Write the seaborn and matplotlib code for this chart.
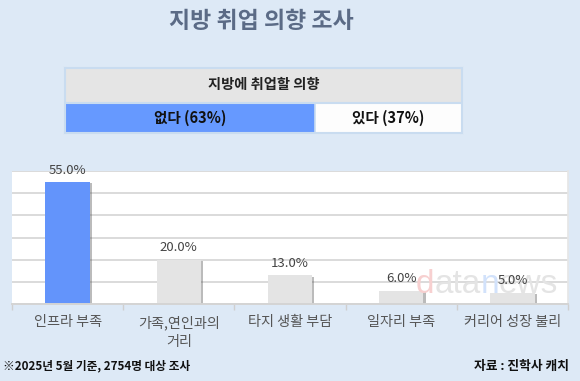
import seaborn as sns
import matplotlib.pyplot as plt
import matplotlib.patheffects as pe

# data
categories = ['인프라 부족', '가족,연인과의\n거리', '타지 생활 부담', '일자리 부족', '커리어 성장 불리']
values = [55.0, 20.0, 13.0, 6.0, 5.0]
bar_colors = ['#6394fb', '#e4e4e4', '#e4e4e4', '#e4e4e4', '#e4e4e4']
intent_labels = ['없다', '있다']
intent_values = [63, 37]

BG = '#dde9f6'

sns.set_theme(style="white")
plt.rcParams['font.family'] = ['Noto Sans CJK KR', 'DejaVu Sans']

fig = plt.figure(figsize=(5.8, 3.81), dpi=100)
fig.patch.set_facecolor(BG)

# title
fig.text(261 / 580, 1 - 22 / 381, '지방 취업 의향 조사', ha='center', va='center',
         fontsize=16.5, fontweight='heavy', color='#5b6b86')

# summary table with the stacked bar
tax = fig.add_axes([65 / 580, 1 - 133 / 381, 397 / 580, 65 / 381])
tax.set_xlim(0, 100)
tax.set_ylim(0, 2.15)
tax.barh(1.58, 100, height=1.14, color='#e5e5e5', edgecolor='none')
tax.barh(0.5, intent_values[0], height=1.0, color='#6699ff', edgecolor='none')
tax.barh(0.5, intent_values[1], left=intent_values[0], height=1.0, color='#fdfdfd', edgecolor='none')
tax.axhline(1.0, color='#c9dcf0', lw=1.5)
tax.axvline(intent_values[0], ymax=1.0 / 2.15, color='#c9dcf0', lw=1.2)
tax.text(50, 1.58, '지방에 취업할 의향', ha='center', va='center', fontsize=10.3,
         fontweight='bold', color='#222222')
left = 0
for lab, v in zip(intent_labels, intent_values):
    tax.text(left + v / 2, 0.5, f'{lab} ({v}%)', ha='center', va='center',
             fontsize=10.5, fontweight='bold', color='#111111')
    left += v
tax.set_xticks([])
tax.set_yticks([])
for s in tax.spines.values():
    s.set_color('#c9dcf0')
    s.set_linewidth(1.5)

# main bar chart
ax = fig.add_axes([12 / 580, 1 - 304 / 381, 556 / 580, 133 / 381])
ax.set_facecolor('white')
sns.barplot(x=categories, y=values, hue=categories, palette=bar_colors, legend=False,
            width=0.4, saturation=1, edgecolor='none', ax=ax)
for p in ax.patches:
    p.set_path_effects([pe.SimplePatchShadow(offset=(1.6, -1.0), shadow_rgbFace='#555555', alpha=0.4),
                        pe.Normal()])

ax.set_xlim(-0.5, len(categories) - 0.5)
ax.set_ylim(0, 60)
ax.set_yticks(range(0, 61, 10))
ax.set_yticklabels([])
ax.yaxis.grid(True, color='#dadada', lw=1.4)
ax.set_axisbelow(True)
for side in ['left', 'top']:
    ax.spines[side].set_visible(False)
ax.spines['right'].set_color('#e6e6e6')
ax.spines['bottom'].set_color('#d4d4d4')
ax.spines['bottom'].set_linewidth(1.4)
ax.set_xlabel('')
ax.set_ylabel('')
ax.tick_params(axis='x', which='major', length=0, pad=8, labelsize=10.2, labelcolor='#555555')
for lbl in ax.get_xticklabels():
    lbl.set_linespacing(1.45)
ax.set_xticks([i - 0.5 for i in range(len(categories) + 1)], minor=True)
ax.tick_params(axis='x', which='minor', length=4, width=1, color='#cfcfcf', bottom=True)
ax.tick_params(axis='y', length=0)

for i, v in enumerate(values):
    ax.annotate(f'{v:.1f}%', (i, v), xytext=(0, 4), textcoords='offset points',
                ha='center', va='bottom', fontsize=9.5, color='#444444', zorder=5,
                annotation_clip=False)

# faint watermark
wm = dict(fontsize=24, family=['Liberation Sans', 'DejaVu Sans'], va='bottom', zorder=1.5)
t1 = ax.text(0.726, 0.03, 'd', transform=ax.transAxes, color='#f7d0d0', **wm)
t2 = ax.annotate('ata', xy=(1, 0), xycoords=t1, color='#e4e4e4', **wm)
t3 = ax.annotate('n', xy=(1, 0), xycoords=t2, color='#d2e2fb', **wm)
ax.annotate('ews', xy=(1, 0), xycoords=t3, color='#e4e4e4', **wm)

# footnotes
fig.text(3 / 580, 1 - 366 / 381, '※2025년 5월 기준, 2754명 대상 조사', ha='left', va='center',
         fontsize=8.4, fontweight='bold', color='#111111')
fig.text(569 / 580, 1 - 366 / 381, '자료 : 진학사 캐치', ha='right', va='center',
         fontsize=9.2, fontweight='bold', color='#111111')

fig.savefig('out.png', dpi=100, facecolor=BG)
